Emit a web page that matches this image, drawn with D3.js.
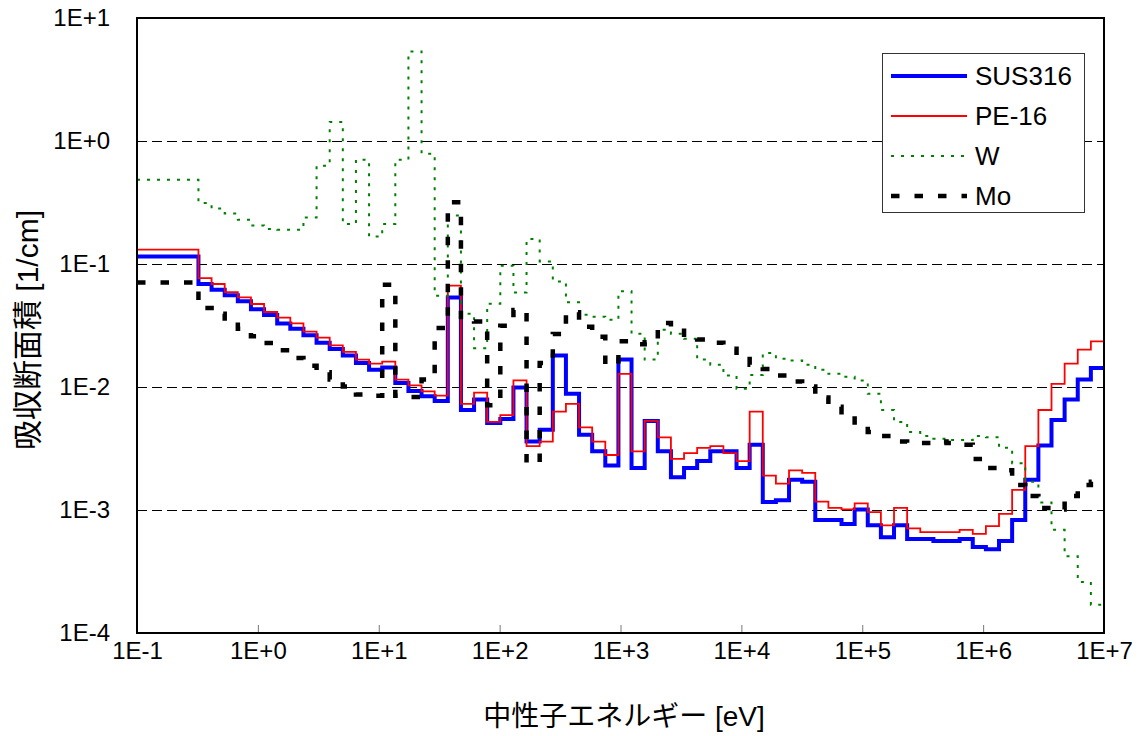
<!DOCTYPE html>
<html>
<head>
<meta charset="utf-8">
<script src="https://cdn.jsdelivr.net/npm/d3@7"></script>
<style>
  body { margin: 0; background: #fff; }
  text { font-family: "Liberation Sans", "Noto Sans CJK JP", sans-serif; fill: #000; }
</style>
</head>
<body>
<script>
// energy group boundaries [eV], 70 groups
const bounds = [0.1, 0.3224, 0.4140, 0.5316, 0.6826, 0.8764, 1.125, 1.445, 1.855, 2.382, 3.059,
  3.928, 5.043, 6.476, 8.315, 10.68, 13.71, 17.60, 22.60, 29.02, 37.27, 47.85, 61.44, 78.89,
  101.3, 130.1, 167.0, 214.5, 275.4, 353.6, 454.0, 583.0, 748.5, 961.1, 1234, 1585, 2035, 2613,
  3355, 4307, 5531, 7102, 9119, 11709, 15034, 19305, 24788, 31828, 40868, 52475, 67379, 86517,
  111090, 142642, 183156, 235177, 301974, 387742, 497871, 639279, 820850, 1054000, 1353353,
  1737739, 2231302, 2865048, 3678794, 4723666, 6065307, 7788008, 1e7]

// absorption cross sections [1/cm] per group, low energy first
const sus316 = [0.115, 0.0688, 0.0618, 0.0556, 0.0497, 0.0428, 0.0385, 0.0329, 0.0298, 0.0263,
  0.0229, 0.0204, 0.0180, 0.0157, 0.0138, 0.0144, 0.0108, 0.0093, 0.0084, 0.0077,
  0.0535, 0.0065, 0.0079, 0.0051, 0.0055, 0.0099, 0.0036, 0.0045, 0.0180, 0.0088,
  0.0041, 0.0030, 0.0023, 0.0167, 0.0022, 0.0053, 0.0030, 0.00185, 0.0022, 0.0025,
  0.0030, 0.0030, 0.0022, 0.0034, 0.00116, 0.00120, 0.00176, 0.00170, 0.00083, 0.00083,
  0.00077, 0.00101, 0.00075, 0.00060, 0.00075, 0.00058, 0.00058, 0.00056, 0.00056, 0.00058,
  0.00050, 0.00048, 0.00056, 0.00083, 0.00176, 0.00335, 0.0054, 0.0079, 0.0115, 0.0143]

const pe16 = [0.131, 0.0769, 0.0688, 0.0591, 0.0535, 0.0473, 0.0407, 0.0366, 0.0329, 0.0282,
  0.0252, 0.0218, 0.0193, 0.0167, 0.0155, 0.0161, 0.0115, 0.0103, 0.0092, 0.0085,
  0.0667, 0.0073, 0.0090, 0.0052, 0.0059, 0.0113, 0.0033, 0.0036, 0.0063, 0.0073,
  0.0047, 0.0036, 0.0028, 0.0128, 0.0030, 0.0053, 0.0039, 0.0026, 0.0029, 0.0032,
  0.0033, 0.0029, 0.0025, 0.0063, 0.0019, 0.00164, 0.0021, 0.0020, 0.00117, 0.00104,
  0.00101, 0.00113, 0.00096, 0.00075, 0.00104, 0.00071, 0.00066, 0.00066, 0.00066, 0.00069,
  0.00064, 0.00074, 0.00093, 0.00146, 0.0033, 0.0065, 0.0106, 0.0155, 0.0201, 0.0235]

const w = [0.484, 0.313, 0.282, 0.257, 0.229, 0.206, 0.193, 0.190, 0.190, 0.239,
  0.630, 1.43, 0.211, 0.705, 0.167, 0.211, 0.705, 5.35, 0.789, 0.0552,
  0.248, 0.0394, 0.0207, 0.0476, 0.0969, 0.0587, 0.160, 0.105, 0.0722, 0.0488,
  0.0387, 0.0373, 0.0352, 0.0601, 0.0271, 0.0167, 0.0292, 0.0271, 0.0247, 0.0167,
  0.0152, 0.0124, 0.0097, 0.0125, 0.0189, 0.0170, 0.0164, 0.0152, 0.0138, 0.0128,
  0.0121, 0.0113, 0.0088, 0.0065, 0.0052, 0.0043, 0.0040, 0.0038, 0.0037, 0.0037,
  0.0040, 0.0039, 0.0032, 0.0024, 0.0017, 0.00115, 0.00069, 0.00042, 0.00026, 0.00017]

const mo = [0.0708, 0.0438, 0.0394, 0.0338, 0.0298, 0.0258, 0.0228, 0.0199, 0.0172, 0.0149,
  0.0132, 0.0115, 0.0101, 0.0087, 0.0085, 0.0679, 0.0085, 0.0083, 0.0115, 0.0302,
  0.317, 0.0352, 0.0341, 0.0071, 0.0315, 0.0423, 0.0024, 0.0157, 0.0270, 0.0405,
  0.0309, 0.0256, 0.0152, 0.0236, 0.0223, 0.0231, 0.0331, 0.0309, 0.0252, 0.0243,
  0.0229, 0.0205, 0.0176, 0.0152, 0.0140, 0.0124, 0.0111, 0.0101, 0.0082, 0.0069,
  0.0058, 0.0049, 0.0043, 0.0040, 0.0036, 0.0035, 0.0035, 0.0036, 0.0035, 0.0034,
  0.0026, 0.0022, 0.0021, 0.0016, 0.0013, 0.00104, 0.00101, 0.0013, 0.0016, 0.0017]

const seriesNames = ['SUS316', 'PE-16', 'W', 'Mo']
const xTicks = [1e-1, 1, 1e1, 1e2, 1e3, 1e4, 1e5, 1e6, 1e7]
const yTicks = [1e-4, 1e-3, 1e-2, 1e-1, 1, 1e1]
const gridVals = [1, 1e-1, 1e-2, 1e-3]

const m = { width: 1145, height: 736, left: 137, right: 1104, top: 18, bottom: 633 }

const svg = d3.select('body').append('svg')
    .attr('width', m.width)
    .attr('height', m.height)

const x = d3.scaleLog().domain([0.1, 1e7]).range([m.left, m.right])
const y = d3.scaleLog().domain([1e-4, 10]).range([m.bottom, m.top])

const expFmt = function(d) {
    const e = Math.round(Math.log10(d))
    return '1E' + (e < 0 ? '-' : '+') + Math.abs(e)
}

// gridlines (snapped to pixel centres so they stay sharp)
svg.append('g').selectAll('line')
    .data(gridVals)
    .enter()
    .append('line')
        .attr('x1', m.left).attr('x2', m.right)
        .attr('y1', d => Math.round(y(d)) + 0.5).attr('y2', d => Math.round(y(d)) + 0.5)
        .attr('stroke', '#000')
        .attr('stroke-width', 1)
        .attr('stroke-dasharray', '10,5')

// axes
const xAxis = svg.append('g')
    .attr('transform', 'translate(0,' + m.bottom + ')')
    .call(d3.axisBottom(x).tickValues(xTicks).tickFormat(expFmt)
        .tickSizeInner(-8).tickSizeOuter(0).tickPadding(9))
xAxis.select('.domain').remove()
xAxis.selectAll('.tick line').attr('stroke', '#777')
xAxis.selectAll('text').style('font-size', '24px')

const yAxis = svg.append('g')
    .attr('transform', 'translate(' + m.left + ',0)')
    .call(d3.axisLeft(y).tickValues(yTicks).tickFormat(expFmt)
        .tickSize(0).tickPadding(27))
yAxis.select('.domain').remove()
yAxis.selectAll('text').style('font-size', '24px')

// series
svg.append('clipPath').attr('id', 'plot')
    .append('rect')
        .attr('x', m.left).attr('y', m.top)
        .attr('width', m.right - m.left).attr('height', m.bottom - m.top)

const stepLine = d3.line()
    .x(d => x(d[0]))
    .y(d => y(d[1]))
    .curve(d3.curveStepAfter)

const toPoints = function(vals) {
    const pts = vals.map((v, i) => [bounds[i], v])
    pts.push([bounds[bounds.length - 1], vals[vals.length - 1]])
    return pts
}

const styles = [
    { vals: sus316, color: '#0000ff', width: 4, dash: null },
    { vals: pe16, color: '#ff0000', width: 1.8, dash: null },
    { vals: w, color: '#008000', width: 2, dash: '3,7' },
    { vals: mo, color: '#000000', width: 4.5, dash: '8.5,15' }
]

const g = svg.append('g').attr('clip-path', 'url(#plot)')
g.selectAll('path')
    .data(styles)
    .enter()
    .append('path')
        .attr('d', d => stepLine(toPoints(d.vals)))
        .attr('fill', 'none')
        .attr('stroke', d => d.color)
        .attr('stroke-width', d => d.width)
        .attr('stroke-dasharray', d => d.dash)

// frame
svg.append('rect')
    .attr('x', m.left).attr('y', m.top)
    .attr('width', m.right - m.left).attr('height', m.bottom - m.top)
    .attr('fill', 'none')
    .attr('stroke', '#000')
    .attr('stroke-width', 2)

// axis titles
svg.append('text')
    .attr('x', 624).attr('y', 726)
    .attr('text-anchor', 'middle')
    .style('font-size', '28px')
    .text('中性子エネルギー [eV]')

svg.append('text')
    .attr('transform', 'translate(38,330) rotate(-90)')
    .attr('text-anchor', 'middle')
    .style('font-size', '30px')
    .text('吸収断面積 [1/cm]')

// legend
const lg = svg.append('g')
lg.append('rect')
    .attr('x', 882.5).attr('y', 53.5)
    .attr('width', 202).attr('height', 159)
    .attr('fill', '#fff')
    .attr('stroke', '#333')
    .attr('stroke-width', 1)

const items = lg.selectAll('.item')
    .data(styles)
    .enter()
    .append('g')
        .attr('transform', (d, i) => 'translate(0,' + (76 + i * 40) + ')')

items.append('line')
    .attr('x1', 891).attr('x2', 967)
    .attr('y1', 0).attr('y2', 0)
    .attr('stroke', d => d.color)
    .attr('stroke-width', d => d.width)
    .attr('stroke-dasharray', d => d.dash)

items.append('text')
    .attr('x', 975).attr('y', 0)
    .attr('dy', '0.35em')
    .style('font-size', '26px')
    .text((d, i) => seriesNames[i])
</script>
</body>
</html>
